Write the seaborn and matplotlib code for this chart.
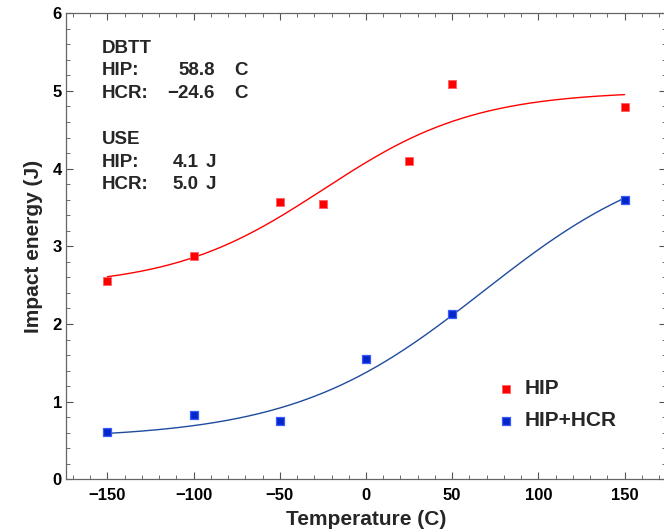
import numpy as np
import pandas as pd
import matplotlib
matplotlib.use("Agg")
import matplotlib.pyplot as plt
import seaborn as sns

# ---- data ----
temps_hip = [-150, -100, -50, -25, 25, 50, 150]
energy_hip = [2.55, 2.88, 3.57, 3.54, 4.10, 5.09, 4.79]
temps_hcr = [-150, -100, -50, 0, 50, 150]
energy_hcr = [0.61, 0.83, 0.75, 1.55, 2.13, 3.60]

# tanh fit parameters (A + B*tanh((T-T0)/C))
fit_hip = dict(A=3.735, B=1.265, T0=-24.6, C=88.0)
fit_hcr = dict(A=2.42, B=1.90, T0=68.0, C=110.0)

series_names = ["HIP", "HIP+HCR"]
x_ticks = [-150, -100, -50, 0, 50, 100, 150]
y_ticks = [0, 1, 2, 3, 4, 5, 6]

annot_labels = ["DBTT", "HIP:", "HCR:", "", "USE", "HIP:", "HCR:"]
annot_values = ["", "58.8", "\u221224.6", "", "", "4.1", "5.0"]
annot_units = ["", "C", "C", "", "", "J", "J"]

RED = "#ff0000"
BLUE_FILL = "#0526c8"
BLUE_EDGE = "#3a5cff"
BLUE_LINE = "#1f4b9e"

sns.set_style("ticks")
plt.rcParams["font.family"] = ["Liberation Sans", "DejaVu Sans"]
plt.rcParams["font.weight"] = "bold"

W, H = 664, 531
fig = plt.figure(figsize=(W / 100, H / 100), dpi=100)
ax_left, ax_right, ax_top, ax_bottom = 66, 666, 13.3, 479.3
ax = fig.add_axes([ax_left / W, 1 - ax_bottom / H, (ax_right - ax_left) / W, (ax_bottom - ax_top) / H])

pts = pd.DataFrame({
    "T": temps_hip + temps_hcr,
    "E": energy_hip + energy_hcr,
    "series": [series_names[0]] * len(temps_hip) + [series_names[1]] * len(temps_hcr),
})

def tanh_curve(p, t):
    return p["A"] + p["B"] * np.tanh((t - p["T0"]) / p["C"])

tt = np.linspace(-150, 150, 301)
curves = pd.DataFrame({
    "T": np.concatenate([tt, tt]),
    "E": np.concatenate([tanh_curve(fit_hip, tt), tanh_curve(fit_hcr, tt)]),
    "series": [series_names[0]] * len(tt) + [series_names[1]] * len(tt),
})

sns.lineplot(data=curves, x="T", y="E", hue="series",
             palette={series_names[0]: RED, series_names[1]: BLUE_LINE},
             linewidth=1.0, legend=False, ax=ax, zorder=2)

sns.scatterplot(data=pts[pts.series == series_names[0]], x="T", y="E",
                marker="s", s=34, color=RED, edgecolor="#ff6060", linewidth=0.6,
                ax=ax, zorder=3, label=series_names[0])
sns.scatterplot(data=pts[pts.series == series_names[1]], x="T", y="E",
                marker="s", s=34, color=BLUE_FILL, edgecolor=BLUE_EDGE, linewidth=0.9,
                ax=ax, zorder=3, label=series_names[1])

ax.set_xlim(-174, 174)
ax.set_ylim(0, 6)
ax.set_xticks(x_ticks)
ax.set_xticklabels([str(v).replace("-", "\u2212") for v in x_ticks])
ax.set_yticks(y_ticks)
ax.set_xticks(np.arange(-170, 171, 10), minor=True)
ax.set_yticks(np.arange(0, 6.01, 0.2), minor=True)
ax.tick_params(which="both", direction="in", top=True, right=True, colors="#555555",
               labelcolor="black", labelsize=12)
ax.tick_params(which="major", length=5, width=0.8)
ax.tick_params(which="minor", length=3, width=0.6)
ax.tick_params(axis="x", which="major", pad=6)
ax.tick_params(axis="y", which="major", pad=3)
for lab in ax.get_xticklabels() + ax.get_yticklabels():
    lab.set_fontweight("bold")
for sp in ax.spines.values():
    sp.set_color("#666666")
    sp.set_linewidth(0.9)

ax.set_xlabel("Temperature (C)", fontsize=15, fontweight="bold", labelpad=5)
ax.set_ylabel("Impact energy (J)", fontsize=15, fontweight="bold", labelpad=7)

# annotation block
FS = 13.5
base_y = [52.7, 75.3, 98.3, None, 144.3, 166.7, 189.3]
for lab, val, unit, by in zip(annot_labels, annot_values, annot_units, base_y):
    if by is None:
        continue
    yf = 1 - by / H
    fig.text(101.7 / W, yf, lab, fontsize=FS, fontweight="bold", va="baseline", ha="left")
    if val:
        if unit == "C":
            fig.text(215 / W, yf, val, fontsize=FS, fontweight="bold", va="baseline", ha="right")
            fig.text(234 / W, yf, unit, fontsize=FS, fontweight="bold", va="baseline", ha="left")
        else:
            fig.text(198.5 / W, yf, val, fontsize=FS, fontweight="bold", va="baseline", ha="right")
            fig.text(205.5 / W, yf, unit, fontsize=FS, fontweight="bold", va="baseline", ha="left")

leg = ax.legend(loc="upper left", bbox_to_anchor=(498.5 / W, 1 - 379.5 / H),
                bbox_transform=fig.transFigure, frameon=False,
                prop={"size": 15, "weight": "bold"}, handlelength=0.75,
                handletextpad=0.5, labelspacing=0.62, borderpad=0, borderaxespad=0)

fig.savefig("out.png", dpi=100)
